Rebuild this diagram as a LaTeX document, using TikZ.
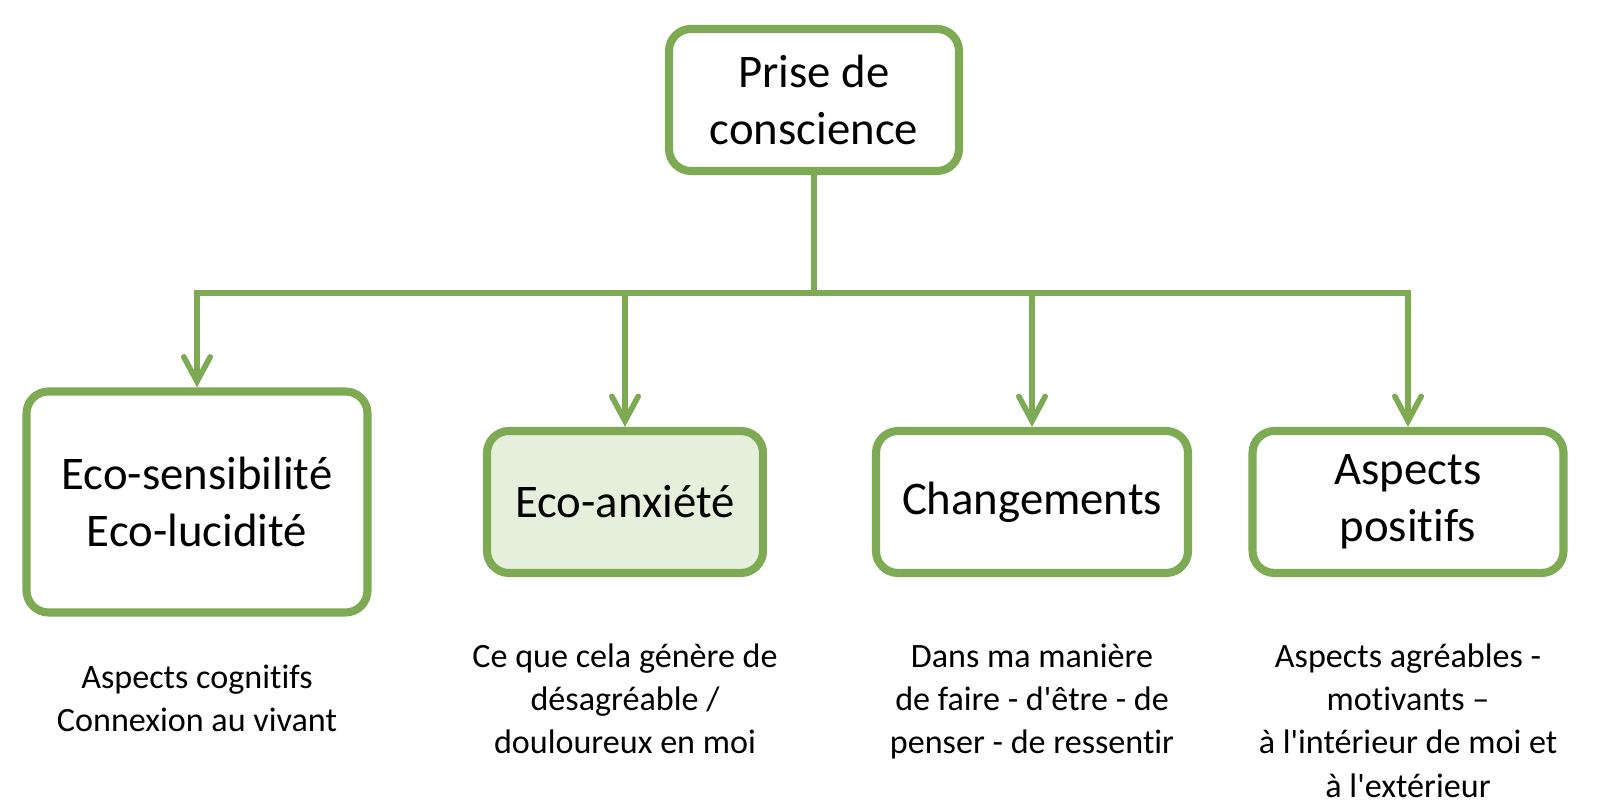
\documentclass[tikz,border=0pt]{standalone}
\usepackage{fontspec}
\setmainfont{Carlito}[Ligatures={TeX,NoCommon}]
\usetikzlibrary{calc,positioning}
\usetikzlibrary{arrows.meta}
\definecolor{leaf}{RGB}{125,170,82}
\definecolor{leaflight}{RGB}{229,239,220}
\tikzset{
  barb/.tip={Straight Barb[length=7pt,width=7.5pt,line cap=round]},
  card/.style={draw=leaf,line width=2.3pt,rounded corners=0.22cm,fill=white,align=center,inner sep=0pt,font=\fontsize{13.3}{16.2}\selectfont},
  note/.style={align=center,inner sep=0pt,anchor=north,font=\fontsize{9.7}{12.3}\selectfont},
  link/.style={draw=leaf,line width=1.6pt},
  tip/.style={link,-barb}
}

\begin{document}
\begin{tikzpicture}
  \useasboundingbox (0,0) rectangle (16,8.09);
  \node[card,minimum width=2.90cm,minimum height=1.42cm] (top) at (8.14,7.09) {Prise de\\conscience};
  \node[card,minimum width=3.41cm,minimum height=2.21cm] (b1) at (1.97,3.07) {Eco-sensibilité\\Eco-lucidité};
  \node[card,fill=leaflight,minimum width=2.76cm,minimum height=1.42cm] (b2) at (6.25,3.07) {Eco-anxiété};
  \node[card,minimum width=3.12cm,minimum height=1.42cm] (b3) at (10.32,3.07) {Changements};
  \node[card,minimum width=3.11cm,minimum height=1.42cm] (b4) at (14.08,3.07) {Aspects\\positifs};
  \node[note] (n1) at (1.97,1.45) {Aspects cognitifs\\Connexion au vivant};
  \node[note] (n2) at (6.25,1.66) {Ce que cela génère de\\désagréable /\\douloureux en moi};
  \node[note] (n3) at (10.32,1.66) {Dans ma manière\\de faire - d\textquotesingle être - de\\penser - de ressentir};
  \node[note] (n4) at (14.08,1.66) {Aspects agréables -\\motivants –\\à l\textquotesingle intérieur de moi et\\à l\textquotesingle extérieur};
  \coordinate (bus) at (8.14,5.16);
  \draw[link] (top.south) to (bus);
  \draw[link,barb-barb] (b1.north) |- (bus) -| (b4.north);
  \foreach \x in {2,3}
    \draw[tip] (b\x.north |- bus) to (b\x.north);
\end{tikzpicture}
\end{document}
